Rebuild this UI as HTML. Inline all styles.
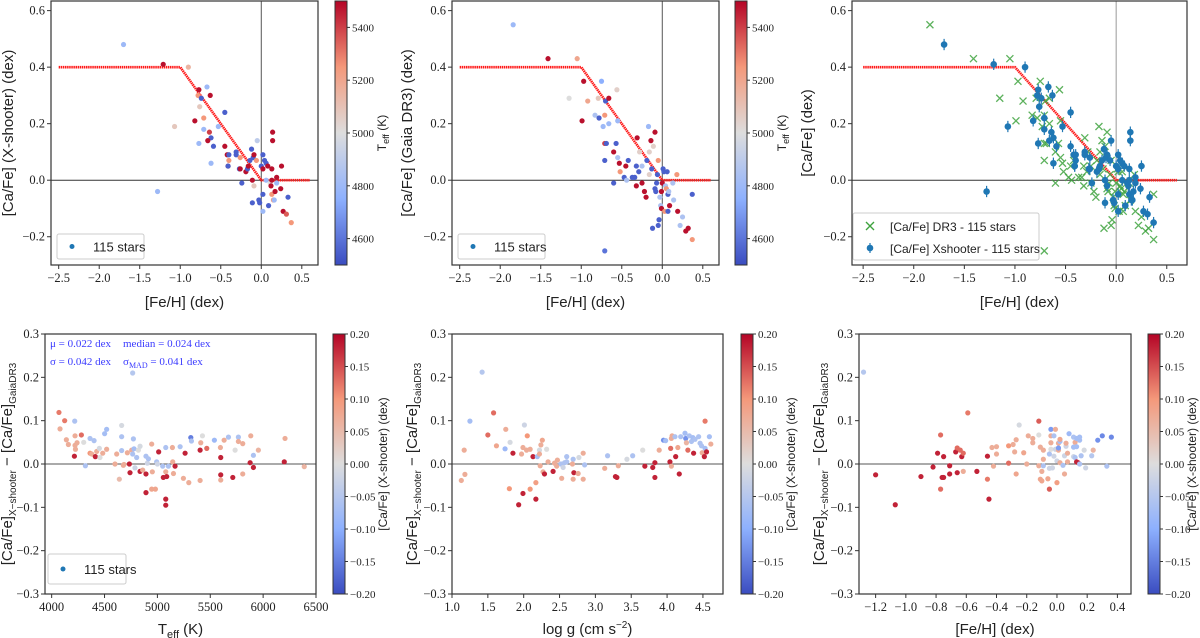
<!DOCTYPE html>
<html><head><meta charset="utf-8">
<style>
body{margin:0;background:#fff;}
svg{display:block;}
.tk{font-family:"Liberation Serif",serif;font-size:12.5px;fill:#222;}
.ctk{font-family:"Liberation Serif",serif;font-size:11px;fill:#222;}
.lb{font-family:"Liberation Sans",sans-serif;font-size:15px;fill:#222;}
.st{font-family:"Liberation Serif",serif;font-size:11px;fill:#3a3aff;}
</style></head>
<body>
<svg id="fig" width="1200" height="638" viewBox="0 0 1200 638" xmlns="http://www.w3.org/2000/svg">
<defs>
<linearGradient id="cwg" x1="0" y1="1" x2="0" y2="0">
<stop offset="0" stop-color="#3a4cc0"/><stop offset="0.25" stop-color="#8db0fe"/><stop offset="0.5" stop-color="#dddddd"/><stop offset="0.75" stop-color="#f4987a"/><stop offset="1" stop-color="#b40426"/>
</linearGradient>
</defs>
</svg>
<script>
// ---------- DATA ----------
const tlFeh=[-1.70,-1.21,-0.90,-1.28,-1.07,-0.82,-0.77,-0.78,-0.67,-0.63,-0.76,-0.71,-0.71,-0.77,-0.74,-0.64,-0.62,-0.66,-0.59,-0.62,-0.53,-0.45,-0.45,-0.42,-0.40,-0.40,-0.41,-0.41,-0.31,-0.31,-0.27,-0.26,-0.26,-0.24,-0.19,-0.17,-0.16,-0.14,-0.12,-0.10,-0.09,-0.06,-0.05,-0.11,-0.11,-0.09,-0.03,-0.02,0.00,0.02,0.02,0.04,0.06,0.06,0.02,0.02,0.08,0.09,0.11,0.12,0.13,0.13,0.14,0.14,0.13,0.15,0.16,0.17,0.19,0.19,0.24,0.25,0.27,0.31,0.33,0.37];
const tlCaFe=[0.48,0.41,0.40,-0.04,0.19,0.21,0.32,0.30,0.33,0.30,0.26,0.22,0.18,0.13,0.29,0.17,0.15,0.14,0.12,0.06,0.19,0.24,0.12,0.09,0.09,0.07,0.05,0.05,0.10,0.09,0.04,0.08,0.04,-0.01,0.03,0.04,0.05,0.07,0.11,0.08,0.09,0.07,0.14,0.00,-0.08,-0.02,-0.07,-0.08,0.05,0.09,0.04,0.07,0.00,0.06,-0.11,-0.05,0.05,-0.09,-0.01,-0.02,0.00,0.04,0.17,0.14,-0.05,-0.07,-0.07,-0.04,0.01,-0.01,-0.03,0.05,-0.11,-0.12,-0.06,-0.15];
const tlTeff=[4800,5480,5150,4800,5080,5480,5480,5250,4800,5480,5080,5250,4800,4800,4550,5400,4550,5480,4550,4800,4800,4550,5480,5480,4550,5250,5480,4550,4550,4550,4550,5250,5480,4550,5480,4550,5480,4550,4550,4550,5480,5250,4900,5480,4550,5080,4550,4550,4550,4550,5480,4550,4800,4550,4800,4550,5480,4550,5000,5480,5480,5480,5480,5480,5250,5250,4800,5480,5480,4800,5480,5480,5480,5350,4550,5250];
const tmFeh=[-1.84,-1.41,-1.05,-1.15,-0.99,-0.97,-0.92,-0.83,-0.79,-0.75,-0.78,-0.73,-0.71,-0.70,-0.66,-0.66,-0.56,-0.55,-0.71,-0.69,-0.71,-0.60,-0.57,-0.55,-0.53,-0.52,-0.60,-0.47,-0.45,-0.42,-0.44,-0.37,-0.34,-0.32,-0.32,-0.31,-0.29,-0.28,-0.25,-0.25,-0.22,-0.20,-0.19,-0.17,-0.16,-0.16,-0.14,-0.13,-0.11,-0.09,-0.09,-0.08,-0.07,-0.06,-0.05,-0.03,-0.04,-0.05,-0.12,-0.02,-0.01,-0.01,0.00,0.01,0.02,0.03,0.04,0.05,0.06,0.07,0.07,0.08,0.09,0.13,0.14,0.18,0.19,0.22,0.25,0.29,0.32,0.37,0.37,-0.71];
const tmCaFe=[0.55,0.43,0.43,0.29,0.21,0.35,0.28,0.23,0.29,0.35,0.22,0.19,0.23,0.28,0.29,0.20,0.32,0.21,0.13,0.13,0.07,0.10,0.13,0.08,0.06,0.03,-0.01,0.01,0.05,0.07,0.00,0.01,0.01,0.05,-0.02,0.15,0.03,0.10,0.05,-0.01,-0.04,-0.06,0.07,0.19,0.10,0.02,0.14,0.04,0.12,0.17,-0.03,-0.04,-0.01,0.02,0.07,-0.06,-0.14,-0.16,-0.17,-0.09,-0.10,-0.04,-0.01,0.04,0.03,-0.11,-0.02,-0.03,0.03,-0.11,-0.05,-0.04,-0.09,-0.01,-0.07,0.02,-0.11,-0.16,-0.13,-0.18,-0.17,-0.05,-0.21,-0.25];
const tmTeff=[4800,5480,5200,5000,5480,5480,5200,4850,5080,4750,4550,4800,5250,4550,5480,4800,5050,4800,5400,4550,4550,5480,4550,4850,5480,5250,4550,4550,5480,4550,4850,4550,4550,4550,5480,5480,4550,5050,4850,5480,5480,5480,4550,4800,5050,5050,5480,4550,5050,5480,4550,4550,4550,4550,5250,4850,4550,4550,4550,4850,5480,5480,5480,4550,4550,5250,4850,5250,4550,4550,4550,4850,5480,4850,4850,5250,5480,4850,4850,5480,5480,4550,5250,4600];
const blTeff=[4069,4079,4123,4139,4158,4218,4221,4221,4225,4215,4240,4281,4303,4319,4363,4363,4379,4401,4413,4426,4451,4457,4483,4501,4520,4520,4599,4615,4640,4662,4662,4662,4678,4684,4716,4735,4741,4757,4766,4773,4779,4766,4788,4804,4820,4836,4836,4861,4892,4892,4892,4905,4915,4946,4952,4946,4981,4993,5000,5012,5050,5056,5079,5079,5088,5079,5079,5104,5142,5145,5152,5167,5215,5246,5262,5297,5316,5322,5404,5404,5410,5426,5467,5539,5596,5599,5599,5599,5631,5672,5713,5735,5766,5766,5807,5807,5883,5877,5908,5908,5955,6207,6200,6389];
const blDiff=[0.119,0.081,0.10,0.056,0.045,0.099,0.065,0.043,0.034,0.018,0.049,0.067,0.05,-0.004,0.059,0.025,0.023,0.054,0.017,0.029,0.036,0.015,0.025,0.07,0.08,0.034,0.0,0.023,-0.035,0.089,0.063,0.031,-0.003,-0.001,0.026,0.0,-0.02,0.032,0.21,0.058,0.035,0.023,-0.009,0.015,0.032,0.041,-0.017,-0.014,0.018,-0.023,-0.066,0.002,0.012,0.046,-0.018,-0.058,-0.058,0.005,0.0,0.028,-0.005,-0.031,0.038,-0.018,-0.029,-0.081,-0.095,-0.005,0.038,0.005,-0.022,-0.005,0.04,-0.033,0.025,-0.043,0.061,0.053,0.032,-0.038,0.049,0.065,0.036,0.055,0.038,0.015,-0.025,-0.037,0.055,0.062,-0.031,0.032,0.062,0.052,0.047,-0.023,0.065,0.003,-0.008,0.020,0.032,0.059,0.005,-0.006];
const blCol=[0.12,0.07,0.12,0.07,0.07,-0.06,0.07,0.07,0.07,0.18,0.07,0.13,0.0,-0.06,-0.06,0.10,0.07,-0.06,0.18,0.07,-0.01,0.0,0.07,-0.07,-0.07,0.07,0.07,0.07,0.05,-0.01,-0.06,-0.06,0.07,0.07,0.07,0.18,0.18,0.07,-0.05,-0.06,-0.07,-0.06,-0.02,-0.06,0.0,-0.01,0.18,0.07,-0.06,0.18,0.18,-0.02,-0.06,0.07,0.07,0.08,0.08,-0.06,-0.02,0.18,-0.06,0.18,-0.06,0.07,0.18,0.18,0.18,-0.06,0.07,0.07,0.07,0.18,-0.06,0.07,0.18,0.07,-0.15,-0.06,0.18,0.07,0.07,0.0,0.13,-0.08,0.07,0.18,0.18,0.07,0.07,-0.06,0.18,0.0,-0.06,0.07,0.07,0.07,0.07,0.18,0.18,-0.06,0.06,0.07,0.18,0.06];
const bmLogg=[1.13,1.17,1.18,1.25,1.42,1.50,1.58,1.62,1.75,1.74,1.81,1.80,1.85,1.93,1.97,1.99,1.99,2.01,2.04,2.05,2.09,2.09,2.13,2.17,2.17,2.19,2.22,2.22,2.23,2.24,2.26,2.27,2.29,2.32,2.34,2.41,2.43,2.47,2.46,2.52,2.55,2.57,2.60,2.60,2.53,2.69,2.68,2.70,2.69,2.76,2.77,2.83,2.83,2.85,3.13,3.17,3.28,3.30,3.32,3.44,3.52,3.66,3.69,3.80,3.83,3.83,3.89,3.95,3.98,4.04,4.05,4.06,4.06,4.07,4.11,4.12,4.15,4.17,4.19,4.25,4.26,4.27,4.29,4.31,4.34,4.36,4.37,4.39,4.44,4.46,4.48,4.49,4.52,4.53,4.53,4.55,4.59,4.61];
const bmDiff=[-0.038,0.032,-0.024,0.099,0.212,0.067,0.118,0.042,0.08,0.035,0.05,-0.057,0.025,-0.094,0.023,0.038,-0.068,0.09,0.032,0.065,0.034,-0.058,0.017,-0.043,-0.081,0.017,0.032,0.023,-0.004,0.044,0.055,-0.018,-0.023,0.034,0.005,-0.017,0.002,0.009,-0.005,0.0,-0.008,0.003,0.017,0.005,-0.033,0.011,0.0,-0.02,-0.035,-0.022,0.015,0.025,-0.035,-0.002,-0.01,0.019,-0.029,-0.031,-0.004,0.011,0.019,0.032,-0.005,-0.008,0.003,-0.031,0.032,0.055,0.054,0.005,0.036,-0.005,0.059,0.065,0.063,0.017,0.038,-0.023,0.063,0.071,0.059,0.049,0.032,0.065,0.052,0.061,0.025,0.057,0.063,0.048,0.042,0.026,0.017,0.099,0.036,0.028,0.063,0.046];
const bmCol=[0.07,0.07,0.07,-0.07,-0.05,0.13,0.13,0.08,0.07,-0.08,-0.01,0.10,0.18,0.18,0.07,0.07,0.18,-0.02,0.07,0.10,0.07,0.10,0.18,0.09,0.18,-0.07,-0.01,0.07,0.07,0.07,0.08,0.07,0.18,0.0,0.07,0.18,0.07,0.07,0.07,-0.06,-0.02,-0.06,-0.06,-0.06,0.07,-0.06,0.07,0.18,0.07,0.07,-0.01,0.07,0.07,-0.06,0.07,-0.06,0.18,0.18,0.07,-0.01,-0.06,0.0,0.18,0.18,0.18,0.18,0.07,-0.13,-0.07,0.18,0.13,0.07,0.07,0.07,-0.06,0.18,0.08,0.18,-0.06,-0.07,-0.13,0.06,0.13,-0.06,-0.06,-0.07,0.18,-0.06,-0.06,-0.06,-0.06,0.07,0.18,0.12,-0.07,0.18,-0.07,0.07];
const brFeh=[-1.28,-1.20,-1.07,-0.90,-0.82,-0.79,-0.77,-0.77,-0.76,-0.75,-0.75,-0.71,-0.71,-0.67,-0.66,-0.66,-0.64,-0.63,-0.62,-0.62,-0.59,-0.53,-0.46,-0.46,-0.45,-0.43,-0.42,-0.40,-0.40,-0.32,-0.32,-0.29,-0.28,-0.27,-0.27,-0.25,-0.22,-0.20,-0.19,-0.16,-0.16,-0.12,-0.12,-0.12,-0.11,-0.11,-0.10,-0.10,-0.09,-0.09,-0.09,-0.06,-0.05,-0.05,-0.04,-0.04,-0.04,-0.04,-0.05,-0.03,-0.02,-0.02,-0.01,-0.01,0.00,0.00,0.01,0.01,0.02,0.02,0.01,0.02,0.04,0.05,0.06,0.05,0.06,0.07,0.07,0.08,0.11,0.11,0.11,0.12,0.12,0.13,0.13,0.13,0.14,0.15,0.15,0.15,0.16,0.18,0.19,0.23,0.24,0.27,0.30,0.33,0.36];
const brDiff=[0.212,-0.025,-0.094,-0.029,-0.007,0.025,0.067,-0.058,-0.031,-0.031,0.017,-0.004,-0.023,0.028,-0.02,0.037,0.032,0.017,0.025,-0.017,0.118,-0.017,0.018,-0.035,-0.081,0.038,-0.005,0.04,0.023,0.042,0.002,0.045,0.028,0.056,-0.023,0.09,0.026,0.0,0.065,0.059,0.049,0.099,0.067,-0.004,0.039,-0.035,-0.039,-0.017,0.032,0.011,-0.004,-0.034,-0.058,0.023,0.08,0.065,0.034,0.049,-0.01,-0.009,0.065,0.018,0.034,0.08,-0.043,0.007,0.048,0.032,0.052,0.057,0.037,0.003,-0.003,0.019,0.041,-0.023,0.048,0.005,0.025,0.07,0.039,0.062,0.017,0.015,0.05,0.059,0.04,0.005,0.003,0.055,0.0,0.062,0.019,0.032,-0.009,0.019,0.032,0.055,0.065,-0.005,0.062];
const brCol=[-0.05,0.18,0.18,0.18,0.18,0.18,0.13,0.13,0.18,0.18,0.18,0.18,0.18,0.18,0.18,0.13,0.13,0.18,0.13,0.07,0.12,0.18,0.18,0.12,0.18,0.07,0.07,0.07,0.07,0.10,0.13,0.07,0.07,0.07,0.08,-0.01,0.08,0.07,0.07,0.07,0.07,0.14,0.0,0.07,0.07,0.08,0.08,0.07,0.07,0.07,-0.06,0.08,0.14,-0.06,-0.12,0.07,0.0,0.07,-0.02,-0.02,-0.06,-0.02,-0.02,0.07,0.09,-0.02,0.07,0.07,-0.07,0.08,-0.12,0.07,-0.06,-0.02,-0.02,0.07,0.07,0.07,0.07,-0.08,-0.07,-0.06,-0.02,-0.06,0.07,-0.07,-0.07,0.18,0.18,-0.07,-0.06,-0.07,-0.06,-0.01,-0.02,-0.05,0.06,-0.13,-0.14,-0.06,-0.14];
const feTicks=[-2.5,-2.0,-1.5,-1.0,-0.5,0.0,0.5];
const caTicks=[-0.2,0.0,0.2,0.4,0.6];
const diffTicks=[-0.3,-0.2,-0.1,0.0,0.1,0.2,0.3];
const teffTicks=[4000,4500,5000,5500,6000,6500];
const loggTicks=[1.0,1.5,2.0,2.5,3.0,3.5,4.0,4.5];
const brTicks=[-1.2,-1.0,-0.8,-0.6,-0.4,-0.2,0.0,0.2,0.4];
const cbTeffTicks=[4600,4800,5000,5200,5400];
const cbDiffTicks=[-0.20,-0.15,-0.10,-0.05,0.00,0.05,0.10,0.15,0.20];
const modelFeh=[-2.5,-1.0,0.0,0.6];
const modelCa=[0.4,0.4,0.0,0.0];

// ---------- HELPERS ----------
const NS="http://www.w3.org/2000/svg";
const svg=document.getElementById('fig');
function mk(tag,attrs,parent){const e=document.createElementNS(NS,tag);for(const k in attrs)e.setAttribute(k,attrs[k]);(parent||svg).appendChild(e);return e;}
const CW=[[0,[58,76,192]],[0.25,[141,176,254]],[0.5,[221,221,221]],[0.75,[244,152,122]],[1,[180,4,38]]];
function cw(t){t=Math.max(0,Math.min(1,t));for(let i=1;i<CW.length;i++){if(t<=CW[i][0]){const a=CW[i-1],b=CW[i];const f=(t-a[0])/(b[0]-a[0]);const c=a[1].map((v,j)=>Math.round(v+(b[1][j]-v)*f));return `rgb(${c})`;}}return 'rgb(180,4,38)';}
function fmt(v,d){const s=Math.abs(v).toFixed(d);return (v<-1e-9?'\u2212':'')+s;}
function lin(d0,d1,p0,p1){return v=>p0+(v-d0)/(d1-d0)*(p1-p0);}

function axes(o){
  const g=mk('g',{});
  
  
  const X=lin(o.xd[0],o.xd[1],o.px[0],o.px[1]), Y=lin(o.yd[0],o.yd[1],o.py[1],o.py[0]);
  o.xt.forEach(v=>{const x=X(v);mk('line',{x1:x,x2:x,y1:o.py[1],y2:o.py[1]+4,stroke:'#333'},g);
    const t=mk('text',{x:x,y:o.py[1]+17,'text-anchor':'middle',class:'tk'},g);t.textContent=fmt(v,o.xdp);});
  o.yt.forEach(v=>{const y=Y(v);mk('line',{x1:o.px[0]-4,x2:o.px[0],y1:y,y2:y,stroke:'#333'},g);
    const t=mk('text',{x:o.px[0]-6,y:y+4,'text-anchor':'end',class:'tk'},g);t.textContent=fmt(v,1);});
  const xl=mk('text',{x:(o.px[0]+o.px[1])/2,y:o.xly,'text-anchor':'middle',class:'lb'},g);
  xl.innerHTML=o.xl;
  const yc=(o.py[0]+o.py[1])/2;
  const yl=mk('text',{x:o.ylx,y:yc,'text-anchor':'middle',class:'lb',transform:`rotate(-90 ${o.ylx} ${yc})`},g);
  yl.innerHTML=o.yl;
  return {g,X,Y};
}
function frame(g,o){mk('rect',{x:o.px[0],y:o.py[0],width:o.px[1]-o.px[0],height:o.py[1]-o.py[0],fill:'none',stroke:'#333','stroke-width':1.2},g);}
function hline(g,A,o,y,col){mk('line',{x1:o.px[0],x2:o.px[1],y1:A.Y(y),y2:A.Y(y),stroke:col,'stroke-width':1},g);}
function vline(g,A,o,x,col){mk('line',{x1:A.X(x),x2:A.X(x),y1:o.py[0],y2:o.py[1],stroke:col,'stroke-width':1},g);}
function model(g,A){
  const pts=modelFeh.map((v,i)=>A.X(v)+','+A.Y(modelCa[i])).join(' ');
  const p=mk('polyline',{points:pts,fill:'none',stroke:'#ff1a1a','stroke-width':2.6,'stroke-dasharray':'1.5 0.6'},g);
  
}
function colorbar(x,y0,y1,d0,d1,ticks,dp,label,lx,name){
  const g=mk('g',{});
  
  mk('rect',{x:x,y:y0,width:12,height:y1-y0,fill:'url(#cwg)',stroke:'#333','stroke-width':1},g);
  const Y=lin(d0,d1,y1,y0);
  ticks.forEach(v=>{const y=Y(v);mk('line',{x1:x+12,x2:x+15,y1:y,y2:y,stroke:'#333'},g);
    const t=mk('text',{x:x+17,y:y+4,class:'ctk'},g);t.textContent=fmt(v,dp);});
  const yc=(y0+y1)/2;
  const t=mk('text',{x:lx,y:yc,'text-anchor':'middle',class:'lb',style:'font-size:12px',transform:`rotate(-90 ${lx} ${yc})`},g);t.innerHTML=label;
}
function dots(g,A,xs,ys,cs,norm,name,r){
  xs.forEach((v,i)=>{const c=mk('circle',{cx:A.X(v),cy:A.Y(ys[i]),r:r||2.6,fill:cw(norm(cs[i]))},g);
    
    });
}
function legend1(g,x,y,w,h,label){
  mk('rect',{x:x,y:y,width:w,height:h,fill:'#fff',stroke:'#ccc',rx:2},g);
  mk('circle',{cx:x+15,cy:y+h/2,r:2.5,fill:'#1f77b4'},g);
  const t=mk('text',{x:x+36,y:y+h/2+5,class:'lb',style:'font-size:13px'},g);t.textContent=label;
  
}
const tn=v=>(v-4500)/1000, dn=v=>(v+0.2)/0.4;
const YDIFF='[Ca/Fe]<tspan font-size="10" dy="4">X\u2212shooter</tspan><tspan dy="-4"> \u2212 [Ca/Fe]</tspan><tspan font-size="10" dy="4">GaiaDR3</tspan>';

// ---------- TOP LEFT ----------
let o={name:'panel-xshooter-vs-feh',px:[51,318],py:[1,265],xd:[-2.595,0.70],yd:[-0.30,0.634],xt:feTicks,yt:caTicks,xdp:1,xl:'[Fe/H] (dex)',xly:307,yl:'[Ca/Fe] (X-shooter) (dex)',ylx:13};
let A=axes(o);
hline(A.g,A,o,0,'#333');vline(A.g,A,o,0,'#555');model(A.g,A);
dots(A.g,A,tlFeh,tlCaFe,tlTeff,tn,'star-point');
legend1(A.g,57,234,87,25,'115 stars');frame(A.g,o);
colorbar(335,1,265,4500,5500,cbTeffTicks,0,'T<tspan font-size="9" dy="3">eff</tspan><tspan dy="-3"> (K)</tspan>',386,'teff-colorbar');

// ---------- TOP MIDDLE ----------
o={name:'panel-gaia-vs-feh',px:[452,719],py:[1,265],xd:[-2.595,0.70],yd:[-0.30,0.634],xt:feTicks,yt:caTicks,xdp:1,xl:'[Fe/H] (dex)',xly:307,yl:'[Ca/Fe] (Gaia DR3) (dex)',ylx:412};
A=axes(o);
hline(A.g,A,o,0,'#333');vline(A.g,A,o,0,'#555');model(A.g,A);
dots(A.g,A,tmFeh,tmCaFe,tmTeff,tn,'star-point');
legend1(A.g,458,234,87,25,'115 stars');frame(A.g,o);
colorbar(735,1,265,4500,5500,cbTeffTicks,0,'T<tspan font-size="9" dy="3">eff</tspan><tspan dy="-3"> (K)</tspan>',786,'teff-colorbar-2');

// ---------- TOP RIGHT ----------
o={name:'panel-compare-vs-feh',px:[852,1187],py:[1,265],xd:[-2.61,0.70],yd:[-0.30,0.634],xt:feTicks,yt:caTicks,xdp:1,xl:'[Fe/H] (dex)',xly:307,yl:'[Ca/Fe] (dex)',ylx:812};
A=axes(o);
hline(A.g,A,o,0,'#333');vline(A.g,A,o,0,'#999');model(A.g,A);
tmFeh.forEach((v,i)=>{const x=A.X(v),y=A.Y(tmCaFe[i]);
  const p=mk('path',{d:`M${x-3.5} ${y-3.5}L${x+3.5} ${y+3.5}M${x-3.5} ${y+3.5}L${x+3.5} ${y-3.5}`,stroke:'#3fa33f','stroke-width':1.3,'stroke-opacity':0.85},A.g);
  
  });
tlFeh.forEach((v,i)=>{const x=A.X(v),y=A.Y(tlCaFe[i]);
  mk('line',{x1:x,x2:x,y1:A.Y(tlCaFe[i]-0.02),y2:A.Y(tlCaFe[i]+0.02),stroke:'#1f77b4','stroke-width':1.2},A.g);
  const c=mk('circle',{cx:x,cy:y,r:3.3,fill:'#1f77b4'},A.g);
  
  });
mk('rect',{x:853,y:213,width:186,height:47,fill:'#fff','fill-opacity':0.85,stroke:'#ccc',rx:2},A.g);
mk('path',{d:'M866 222L874 230M866 230L874 222',stroke:'#3fa33f','stroke-width':1.4},A.g);
mk('line',{x1:870,x2:870,y1:243,y2:253,stroke:'#1f77b4','stroke-width':1.2},A.g);
mk('circle',{cx:870,cy:248,r:3.3,fill:'#1f77b4'},A.g);
let t=mk('text',{x:890,y:231,class:'lb',style:'font-size:12px'},A.g);t.textContent='[Ca/Fe] DR3 - 115 stars';

t=mk('text',{x:890,y:253,class:'lb',style:'font-size:12px'},A.g);t.textContent='[Ca/Fe] Xshooter - 115 stars';

frame(A.g,o);

// ---------- BOTTOM LEFT ----------
o={name:'panel-diff-vs-teff',px:[45,316],py:[334,594],xd:[3937,6500],yd:[-0.3,0.3],xt:teffTicks,yt:diffTicks,xdp:0,xl:'T<tspan font-size="11" dy="4">eff</tspan><tspan dy="-4"> (K)</tspan>',xly:634,yl:YDIFF,ylx:12};
A=axes(o);
hline(A.g,A,o,0,'#555');
dots(A.g,A,blTeff,blDiff,blCol,dn,'star-diff-point');
legend1(A.g,48,554,78,30,'115 stars');
[['\u03bc = 0.022 dex',50,347],['median = 0.024 dex',123,347],['\u03c3 = 0.042 dex',50,365]].forEach(s=>{const e=mk('text',{x:s[1],y:s[2],class:'st'},A.g);e.textContent=s[0];
  });
t=mk('text',{x:123,y:365,class:'st'},A.g);t.innerHTML='\u03c3<tspan font-size="8" dy="3">MAD</tspan><tspan dy="-3"> = 0.041 dex</tspan>';

frame(A.g,o);
colorbar(333,334,594,-0.2,0.2,cbDiffTicks,2,'[Ca/Fe] (X-shooter) (dex)',387,'diff-colorbar');

// ---------- BOTTOM MIDDLE ----------
o={name:'panel-diff-vs-logg',px:[452,723],py:[334,594],xd:[1.0,4.78],yd:[-0.3,0.3],xt:loggTicks,yt:diffTicks,xdp:1,xl:'log g (cm s<tspan font-size="10" dy="-6">\u22122</tspan><tspan dy="6">)</tspan>',xly:634,yl:YDIFF,ylx:417};
A=axes(o);
hline(A.g,A,o,0,'#555');
dots(A.g,A,bmLogg,bmDiff,bmCol,dn,'star-diff-point');
frame(A.g,o);
colorbar(741,334,594,-0.2,0.2,cbDiffTicks,2,'[Ca/Fe] (X-shooter) (dex)',795,'diff-colorbar-2');

// ---------- BOTTOM RIGHT ----------
o={name:'panel-diff-vs-feh',px:[859,1131],py:[334,594],xd:[-1.31,0.49],yd:[-0.3,0.3],xt:brTicks,yt:diffTicks,xdp:1,xl:'[Fe/H] (dex)',xly:634,yl:YDIFF,ylx:824};
A=axes(o);
hline(A.g,A,o,0,'#555');
dots(A.g,A,brFeh,brDiff,brCol,dn,'star-diff-point');
frame(A.g,o);
colorbar(1148,334,594,-0.2,0.2,cbDiffTicks,2,'[Ca/Fe] (X-shooter) (dex)',1196,'diff-colorbar-3');
</script>
</body></html>
